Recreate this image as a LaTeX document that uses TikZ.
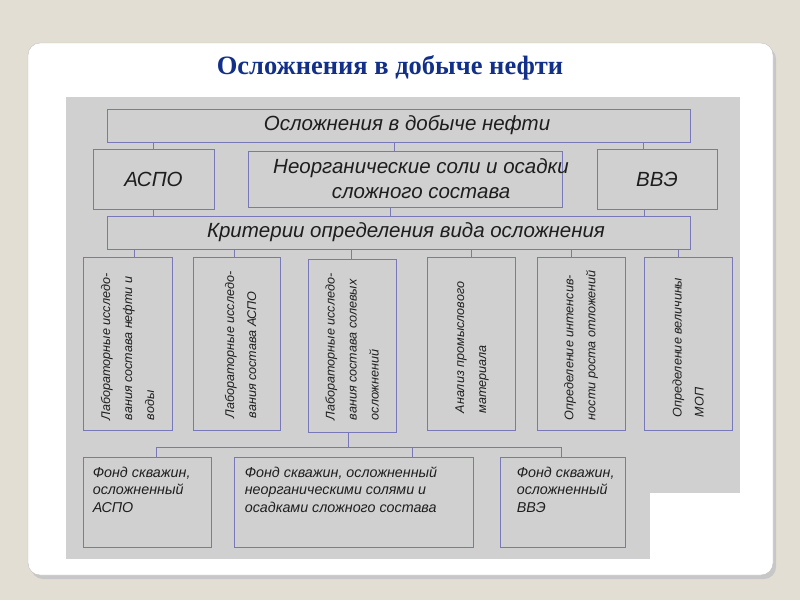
\documentclass[tikz,border=0pt]{standalone}
\usepackage{fontspec}
\setmainfont{Liberation Serif}
\newfontfamily\gostfont{Liberation Sans}
\usetikzlibrary{positioning,calc}
\definecolor{slidebg}{HTML}{E3DED3}
\definecolor{panel}{HTML}{D0D0D0}
\definecolor{boxline}{HTML}{7878B8}
\definecolor{titleblue}{HTML}{12308A}
\definecolor{ink}{HTML}{1E1E1E}

\begin{document}
\begin{tikzpicture}[x=1pt,y=-1pt,
    box/.style={draw=boxline,line width=0.8pt,inner sep=0pt},
    bigtxt/.style={text=ink,font=\gostfont\itshape\fontsize{20.5}{25}\selectfont,align=center},
    vtxt/.style={text=ink,font=\gostfont\itshape\fontsize{12.6}{22}\selectfont,align=left,rotate=90,anchor=west,inner sep=0pt},
    ftxt/.style={text=ink,font=\gostfont\itshape\fontsize{14.3}{17.5}\selectfont,align=left,anchor=north west,inner sep=0pt},
    link/.style={draw=boxline,line width=0.8pt}]
  \useasboundingbox (0,0) rectangle (800,600);
  \fill[slidebg] (0,0) rectangle (800,600);
  \fill[black!22,rounded corners=12pt] (31,47) rectangle (776,579);
  \filldraw[fill=white,draw=black!25,rounded corners=12pt] (28,43) rectangle (773,575);
  \node[text=titleblue,font=\bfseries\fontsize{26.5}{30}\selectfont] (title) at (390,68) {Осложнения в добыче нефти};
  \fill[panel] (66,97) rectangle (740,559);
  \fill[white] (650,493) rectangle (741,560);
  % upper levels
  \node[box,minimum width=583,minimum height=33] (top) at (398.5,125.5) {};
  \node[bigtxt] (toptxt) at (407,125.5) {Осложнения в добыче нефти};
  \node[box,minimum width=121,minimum height=60,bigtxt] (asp) at (153.5,179) {АСПО};
  \node[box,minimum width=314,minimum height=56] (mid) at (405,179) {};
  \node[bigtxt] (midtxt) at (421,179) {Неорганические соли и осадки\\сложного состава};
  \node[box,minimum width=120,minimum height=60,bigtxt] (vvz) at (657,179) {ВВЭ};
  \node[box,minimum width=583,minimum height=33] (crit) at (398.5,232.5) {};
  \node[bigtxt] (crittxt) at (406,232.5) {Критерии определения вида осложнения};
  % criteria
  \node[box,minimum width=89,minimum height=173] (vb1) at (127.5,343.5) {};
  \node[box,minimum width=87,minimum height=173] (vb2) at (236.5,343.5) {};
  \node[box,minimum width=88,minimum height=173] (vb3) at (352,345.5) {};
  \node[box,minimum width=88,minimum height=173] (vb4) at (471,343.5) {};
  \node[box,minimum width=88,minimum height=173] (vb5) at (581,343.5) {};
  \node[box,minimum width=88,minimum height=173] (vb6) at (688,343.5) {};
  \node[vtxt] (vt1) at ([yshift=10pt]vb1.south) {Лабораторные исследо-\\вания состава нефти и\\воды};
  \node[vtxt] (vt2) at ([xshift=4pt,yshift=12pt]vb2.south) {Лабораторные исследо-\\вания состава АСПО};
  \node[vtxt] (vt3) at ([yshift=12pt]vb3.south) {Лабораторные исследо-\\вания состава солевых\\осложнений};
  \node[vtxt] (vt4) at ([xshift=1pt,yshift=17pt]vb4.south) {Анализ промыслового\\материала};
  \node[vtxt] (vt5) at ([yshift=10pt]vb5.south) {Определение интенсив-\\ности роста отложений};
  \node[vtxt] (vt6) at ([yshift=13pt]vb6.south) {Определение величины\\МОП};
  % well stock
  \node[box,minimum width=128,minimum height=90] (fa) at (147,502) {};
  \node[box,minimum width=239,minimum height=90] (fs) at (353.5,502) {};
  \node[box,minimum width=125,minimum height=90] (fv) at (562.5,502) {};
  \node[ftxt] (fat) at ([xshift=10pt,yshift=-10pt]fa.north west) {Фонд скважин,\\осложненный\\АСПО};
  \node[ftxt] (fst) at ([xshift=11pt,yshift=-10pt]fs.north west) {Фонд скважин, осложненный\\неорганическими солями и\\осадками сложного состава};
  \node[ftxt] (fvt) at ([xshift=17pt,yshift=-10pt]fv.north west) {Фонд скважин,\\осложненный\\ВВЭ};
  \coordinate (bus) at (0,447);
  % links
  \draw[link] (top.south -| asp.north) -- (asp.north);
  \draw[link] ([xshift=-11pt]mid.north) -- ([xshift=-11pt]mid.north |- top.south);
  \draw[link] ([xshift=-14pt]vvz.north) -- ([xshift=-14pt]vvz.north |- top.south);
  \draw[link] (asp.south) -- (asp.south |- crit.north);
  \draw[link] ([xshift=-15pt]mid.south) -- ([xshift=-15pt]mid.south |- crit.north);
  \draw[link] ([xshift=-13pt]vvz.south) -- ([xshift=-13pt]vvz.south |- crit.north);
  \foreach \n/\dx in {1/6.5,2/-2.5,3/-1,4/0,5/-10,6/-10}{\draw[link] ([xshift=\dx pt]vb\n.north) -- ([xshift=\dx pt]vb\n.north |- crit.south);}
  \draw[link] ([xshift=-4pt]vb3.south) -- ([xshift=-4pt]vb3.south |- bus);
  \draw[link] ([xshift=9pt]fa.north) |- ([xshift=-1pt]fv.north |- bus) -- ([xshift=-1pt]fv.north);
  \draw[link] ([xshift=58.5pt]fs.north) -- ([xshift=58.5pt]fs.north |- bus);
\end{tikzpicture}
\end{document}
